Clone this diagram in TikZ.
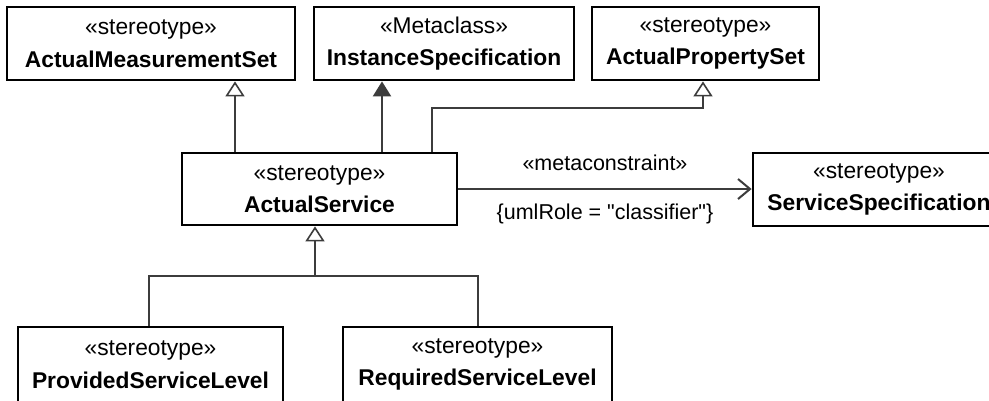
\documentclass[tikz,border=0pt]{standalone}
\usepackage{fontspec}
\setmainfont{Liberation Sans}
\usetikzlibrary{arrows.meta}
\definecolor{linegray}{HTML}{3C3C3C}
\tikzset{
  umlbox/.style={draw=black, line width=2.8pt, fill=white, align=center, inner sep=0pt,
    font=\fontsize{22.8}{32.5}\selectfont, text=black},
  conn/.style={draw=linegray, line width=2.3pt},
  gen/.style={conn, -{Triangle[open, length=15pt, width=19pt, line width=1.6pt, fill=white]}},
  realz/.style={conn, -{Triangle[length=15pt, width=18pt, fill=linegray]}},
  dep/.style={conn, -{Straight Barb[length=12pt, width=20pt, line width=2pt]}},
  lbl/.style={font=\fontsize{21.5}{24}\selectfont, text=black, inner sep=0pt}
}
\begin{document}
\begin{tikzpicture}[x=1pt, y=-1pt]
\clip (0,0) rectangle (989,400);
\fill[white] (0,0) rectangle (989,400);
\node[umlbox, minimum width=288pt, minimum height=73pt] (AMS) at (151,43.5) {«stereotype»\\\textbf{ActualMeasurementSet}};
\node[umlbox, minimum width=260pt, minimum height=73pt] (IS) at (444,43.5) {«Metaclass»\\\textbf{InstanceSpecification}};
\node[umlbox, minimum width=227pt, minimum height=73pt] (APS) at (705.5,43.5) {«stereotype»\\\textbf{ActualPropertySet}};
\node[umlbox, minimum width=275pt, minimum height=72pt] (AS) at (319.5,189) {«stereotype»\\\textbf{ActualService}};
\node[umlbox, minimum width=252pt, minimum height=73pt] (SS) at (879,189.5) {«stereotype»\\\textbf{ServiceSpecification}};
\node[umlbox, minimum width=265pt, minimum height=75pt] (PSL) at (150.5,364.5) {«stereotype»\\\textbf{ProvidedServiceLevel}};
\node[umlbox, minimum width=269pt, minimum height=75pt] (RSL) at (477.5,364.5) {«stereotype»\\\textbf{RequiredServiceLevel}};

\draw[gen] ([xshift=-84.5pt]AS.north) -- ([xshift=84pt]AMS.south);
\draw[realz] ([xshift=62.5pt]AS.north) -- ([xshift=-62pt]IS.south);
\coordinate (bend) at (703,108);
\draw[gen] ([xshift=112.5pt]AS.north) |- (bend) -- (bend |- APS.south);

\draw[dep] (AS.east) -- node[lbl, above=17pt] (mc) {«metaconstraint»}
  node[lbl, below=14pt] (role) {\{umlRole = \textquotedbl classifier\textquotedbl\}} (AS.east -| SS.west);

\coordinate (join) at (315,276);
\draw[conn] ([xshift=-1.5pt]PSL.north) |- (join) -| ([xshift=0.5pt]RSL.north);
\draw[gen] (join) -- (join |- AS.south);
\end{tikzpicture}
\end{document}
